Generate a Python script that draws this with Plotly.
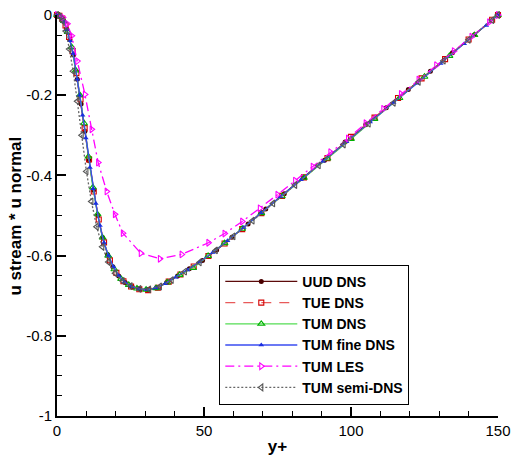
import plotly.graph_objects as go

# ---------------- data ----------------
uud_y = [0, 0.5, 1.2, 2.1, 3.2, 4.4, 5.6, 6.9, 8.2, 9.5, 10.9, 12.4, 13.9, 15.5, 17.2, 19, 21, 23.2,
         25.6, 28.2, 31, 34, 37.3, 41, 45, 49.5, 54.3, 59.5, 65, 71, 77.3, 84, 91, 98, 105, 112,
         119.5, 127, 134.5, 142, 150]
uud_v = [0, 0, -0.004, -0.012, -0.034, -0.062, -0.100, -0.160, -0.222, -0.290, -0.363, -0.437,
         -0.500, -0.555, -0.597, -0.628, -0.651, -0.667, -0.678, -0.684, -0.685, -0.680, -0.667,
         -0.651, -0.633, -0.612, -0.586, -0.554, -0.521, -0.484, -0.446, -0.405, -0.362, -0.317,
         -0.274, -0.231, -0.186, -0.140, -0.094, -0.049, 0.0]

tue_y = [0, 0.8, 1.8, 2.9, 4.1, 5.3, 6.6, 8, 9.4, 10.9, 12.5, 14.2, 16, 18, 20.2, 22.6, 25.2, 28,
         31, 34.3, 38, 42, 46.5, 51.5, 57, 63, 69.5, 76.5, 84, 92, 100, 108, 116, 124, 132, 140,
         148, 150]
tue_v = [0, -0.002, -0.009, -0.026, -0.055, -0.090, -0.145, -0.210, -0.282, -0.360, -0.440,
         -0.510, -0.567, -0.612, -0.643, -0.664, -0.677, -0.684, -0.686, -0.680, -0.665, -0.647,
         -0.627, -0.601, -0.570, -0.534, -0.494, -0.451, -0.405, -0.357, -0.304, -0.256, -0.207,
         -0.158, -0.110, -0.061, -0.012, 0.0]

tum_y = [0, 1, 2.3, 3.6, 5, 6.4, 7.8, 9.2, 10.7, 12.2, 13.8, 15.5, 17.4, 19.5, 21.8, 24.4, 27.2,
         30.3, 33.7, 37.5, 41.7, 46.3, 51.4, 57, 63, 69.5, 76.5, 84, 92, 100, 108, 116.5, 125,
         133.5, 142, 150]
tum_v = [0, -0.003, -0.015, -0.042, -0.080, -0.138, -0.200, -0.270, -0.353, -0.430, -0.497,
         -0.555, -0.600, -0.634, -0.658, -0.673, -0.682, -0.685, -0.681, -0.667, -0.648, -0.631,
         -0.601, -0.569, -0.533, -0.494, -0.452, -0.406, -0.358, -0.309, -0.259, -0.207, -0.154,
         -0.102, -0.050, 0.0]

fine_y = [0, 0.7, 1.5, 2.4, 3.4, 4.5, 5.5, 6.9, 7.7, 8.7, 9.8, 11.2, 12.3, 13.2, 14.6, 16, 17.5,
          19.2, 21, 23, 25.3, 27.8, 30.5, 33.5, 36.8, 40.4, 44.3, 48.5, 53, 58, 63.5, 69.5, 76,
          83, 90.5, 98.5, 106.5, 114.5, 122.5, 130.5, 138.5, 146, 150]
fine_v = [0, -0.001, -0.006, -0.016, -0.036, -0.064, -0.096, -0.160, -0.200, -0.250, -0.307,
          -0.380, -0.433, -0.470, -0.525, -0.568, -0.600, -0.628, -0.650, -0.666, -0.677, -0.683,
          -0.685, -0.681, -0.670, -0.654, -0.636, -0.616, -0.592, -0.563, -0.530, -0.493, -0.453,
          -0.411, -0.365, -0.316, -0.267, -0.218, -0.170, -0.121, -0.072, -0.026, 0.0]

les_y = [0, 2, 3.5, 5, 6.9, 9.5, 11.8, 14, 16.9, 19.7, 22.4, 28.5, 35, 42.4, 51.5, 57, 63, 69,
         75, 81, 87, 93, 99, 105, 111, 117, 123, 129, 135, 141, 147, 150]
les_v = [0, -0.006, -0.022, -0.052, -0.115, -0.198, -0.285, -0.368, -0.440, -0.497, -0.544,
         -0.594, -0.608, -0.597, -0.568, -0.545, -0.515, -0.482, -0.448, -0.413, -0.378, -0.342,
         -0.308, -0.270, -0.234, -0.197, -0.161, -0.125, -0.090, -0.054, -0.018, 0.0]

semi_y = [0, 0.9, 1.9, 3, 4.2, 5.5, 6.9, 8.4, 10, 11.7, 13.5, 15.4, 17.5, 19.8, 22.3, 25, 28,
          31.3, 35, 39, 43.5, 48.5, 54, 60, 66.5, 73.5, 81, 89, 97.5, 106, 114.5, 123, 131.5,
          140, 148, 150]
semi_v = [0, -0.004, -0.015, -0.040, -0.085, -0.140, -0.215, -0.300, -0.390, -0.465, -0.528,
          -0.578, -0.616, -0.644, -0.663, -0.676, -0.683, -0.684, -0.677, -0.661, -0.640, -0.617,
          -0.587, -0.552, -0.513, -0.470, -0.424, -0.375, -0.323, -0.271, -0.219, -0.167, -0.114,
          -0.062, -0.013, 0.0]

x_ticks = [0, 50, 100, 150]
y_ticks = [0, -0.2, -0.4, -0.6, -0.8, -1]
y_ticktext = ["0", "-0.2", "-0.4", "-0.6", "-0.8", "-1"]
x_title = "y+"
y_title = "u stream * u normal"

FONT = "Arial, 'Liberation Sans', sans-serif"

series = [
    ("UUD DNS", uud_y, uud_v, dict(color="#5c0a0a", width=1.3),
     dict(symbol="circle", size=5, color="#4a0000")),
    ("TUE DNS", tue_y, tue_v, dict(color="#e85a5a", width=1.3, dash="10px,8px"),
     dict(symbol="square-open", size=5, color="#d40000", line=dict(width=1.1))),
    ("TUM DNS", tum_y, tum_v, dict(color="#55dd55", width=1.3),
     dict(symbol="triangle-up-open", size=6, color="#00b000", line=dict(width=1.1))),
    ("TUM fine DNS", fine_y, fine_v, dict(color="#3a4cf0", width=1.3),
     dict(symbol="triangle-up", size=5, color="#1a2ee0")),
    ("TUM LES", les_y, les_v, dict(color="#ff00ff", width=1.3, dash="9px,4px,2px,4px"),
     dict(symbol="triangle-right-open", size=6, color="#ff00ff", line=dict(width=1.1))),
    ("TUM semi-DNS", semi_y, semi_v, dict(color="#666666", width=1.3, dash="2px,2px"),
     dict(symbol="triangle-left-open", size=6, color="#555555", line=dict(width=1.1))),
]

fig = go.Figure()
for name, xs, ys, line, marker in series:
    fig.add_trace(go.Scatter(x=xs, y=ys, name=name, mode="lines+markers",
                             line=line, marker=marker, cliponaxis=False))

fig.update_layout(
    width=511, height=457,
    margin=dict(l=57, r=13, t=15, b=41, autoexpand=False),
    paper_bgcolor="white", plot_bgcolor="white",
    font=dict(family=FONT, size=15, color="black"),
    showlegend=True,
    legend=dict(x=0.368, y=0.377, xanchor="left", yanchor="top",
                bordercolor="black", borderwidth=1, bgcolor="white",
                font=dict(family=FONT, size=14, color="black", weight="bold"),
                itemwidth=72, tracegroupgap=0),
    annotations=[
        dict(text=y_title, xref="paper", yref="paper", x=-0.093, y=0.5,
             xanchor="center", yanchor="middle", textangle=-90, showarrow=False,
             font=dict(family=FONT, size=17, weight="bold", color="black")),
    ],
)
fig.update_xaxes(
    range=[0, 150], showgrid=False, zeroline=False, automargin=False,
    showline=True, linecolor="black", linewidth=2,
    ticks="inside", ticklen=9, tickwidth=2, tickcolor="black",
    tickmode="array", tickvals=x_ticks,
    minor=dict(tickmode="linear", tick0=0, dtick=10, ticks="inside", ticklen=5,
               tickwidth=1, tickcolor="black", showgrid=False),
    tickfont=dict(family=FONT, size=15),
    title=dict(text=x_title, font=dict(family=FONT, size=17, weight="bold"), standoff=2),
)
fig.update_yaxes(
    range=[-1, 0], showgrid=False, zeroline=False, automargin=False,
    showline=True, linecolor="black", linewidth=2,
    ticks="inside", ticklen=9, tickwidth=2, tickcolor="black",
    tickmode="array", tickvals=y_ticks, ticktext=y_ticktext,
    minor=dict(tickmode="linear", tick0=0, dtick=0.05, ticks="inside", ticklen=5,
               tickwidth=1, tickcolor="black", showgrid=False),
    tickfont=dict(family=FONT, size=15),
)

# remove the default 8px page margin so the 511x457 figure fills the window exactly
fig.write_html("out.html", config={"displayModeBar": False},
               post_script="document.body.style.margin='0';")
